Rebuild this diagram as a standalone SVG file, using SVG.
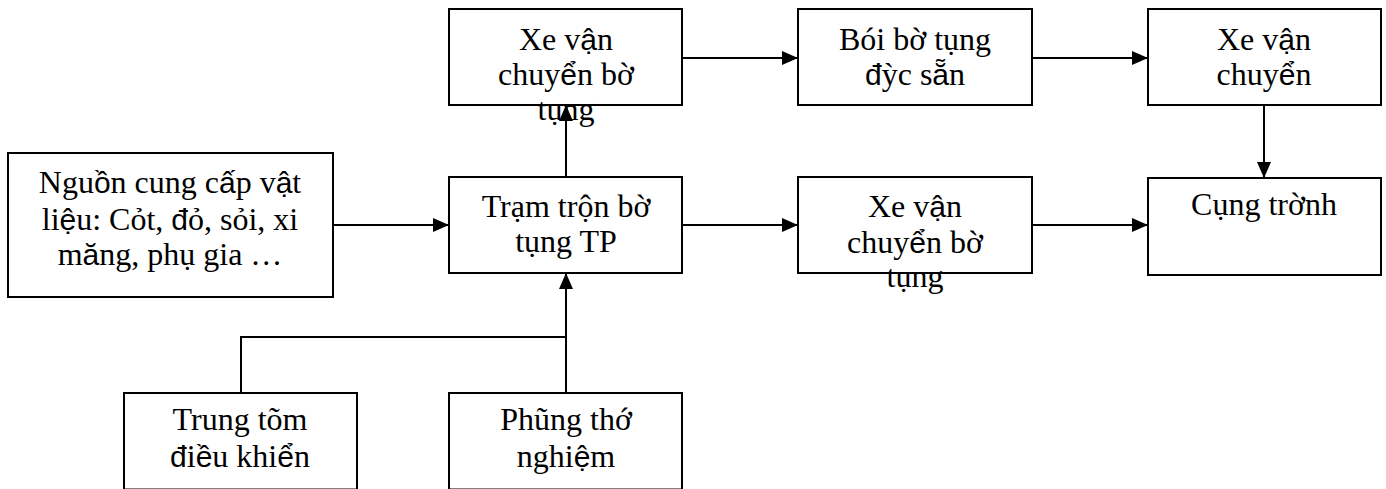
<svg xmlns="http://www.w3.org/2000/svg" width="1386" height="489" viewBox="0 0 1386 489">
<style>
.box{fill:#fff;stroke:#000;stroke-width:2}
.t{font-family:"Liberation Serif","Times New Roman",serif;font-size:32px;fill:#000;text-anchor:middle}
.s{font-family:"Liberation Sans",Arial,sans-serif;font-size:30px}
.ln{fill:none;stroke:#000;stroke-width:2}
</style>
<defs>
<marker id="ah" markerWidth="16" markerHeight="14" refX="16" refY="7" orient="auto" markerUnits="userSpaceOnUse">
<path d="M0,0 L16,7 L0,14 Z" fill="#000"/>
</marker>
</defs>
<rect width="1386" height="489" fill="#fff"/>
<g id="connectors">
<line class="ln" x1="333" y1="225" x2="449" y2="225" marker-end="url(#ah)"/>
<line class="ln" x1="682" y1="58" x2="798" y2="58" marker-end="url(#ah)"/>
<line class="ln" x1="1032" y1="58" x2="1148" y2="58" marker-end="url(#ah)"/>
<line class="ln" x1="1264" y1="105" x2="1264" y2="178" marker-end="url(#ah)"/>
<line class="ln" x1="682" y1="225" x2="798" y2="225" marker-end="url(#ah)"/>
<line class="ln" x1="1032" y1="225" x2="1148" y2="225" marker-end="url(#ah)"/>
<line class="ln" x1="566" y1="177" x2="566" y2="105" marker-end="url(#ah)"/>
<line class="ln" x1="566" y1="393" x2="566" y2="273" marker-end="url(#ah)"/>
<polyline class="ln" points="241,393 241,337 566,337"/>
</g>
<g id="n-source">
<rect class="box" x="8" y="153" width="325" height="144"/>
<text class="t" x="170" y="193">Ngu<tspan class="s">ồ</tspan>n cung c<tspan class="s">ấ</tspan>p v<tspan class="s">ậ</tspan>t</text>
<text class="t" x="170" y="230">li<tspan class="s">ệ</tspan>u: Cỏt, <tspan class="s">đ</tspan>ỏ, sỏi, xi</text>
<text class="t" x="170" y="265">m<tspan class="s">ă</tspan>ng, phụ gia …</text>
</g>
<g id="n-xe1">
<rect class="box" x="449" y="9" width="233" height="96"/>
<text class="t" x="566" y="50">Xe v<tspan class="s">ậ</tspan>n</text>
<text class="t" x="566" y="85">chuy<tspan class="s">ể</tspan>n bờ</text>
<text class="t" x="566" y="120">tụng</text>
</g>
<g id="n-boi">
<rect class="box" x="798" y="9" width="234" height="96"/>
<text class="t" x="915" y="50">Bói bờ tụng</text>
<text class="t" x="915" y="85"><tspan class="s">đ</tspan>ỳc s<tspan class="s">ẵ</tspan>n</text>
</g>
<g id="n-xe3">
<rect class="box" x="1148" y="9" width="233" height="96"/>
<text class="t" x="1264" y="50">Xe v<tspan class="s">ậ</tspan>n</text>
<text class="t" x="1264" y="85">chuy<tspan class="s">ể</tspan>n</text>
</g>
<g id="n-congtrinh">
<rect class="box" x="1148" y="178" width="233" height="97"/>
<text class="t" x="1264" y="215">Cụng trờnh</text>
</g>
<g id="n-tram">
<rect class="box" x="449" y="177" width="233" height="96"/>
<text class="t" x="566" y="217">Trạm trộn bờ</text>
<text class="t" x="566" y="252">tụng TP</text>
</g>
<g id="n-xe2">
<rect class="box" x="798" y="177" width="234" height="96"/>
<text class="t" x="915" y="217">Xe v<tspan class="s">ậ</tspan>n</text>
<text class="t" x="915" y="253">chuy<tspan class="s">ể</tspan>n bờ</text>
<text class="t" x="915" y="287">tụng</text>
</g>
<g id="n-trungtam">
<rect class="box" x="124" y="393" width="233" height="96.5"/>
<text class="t" x="240" y="430">Trung tõm</text>
<text class="t" x="240" y="467"><tspan class="s">đ</tspan>i<tspan class="s">ề</tspan>u khi<tspan class="s">ể</tspan>n</text>
</g>
<g id="n-phong">
<rect class="box" x="449" y="393" width="233" height="96.5"/>
<text class="t" x="566" y="430">Phũng thớ</text>
<text class="t" x="566" y="467">nghi<tspan class="s">ệ</tspan>m</text>
</g>
</svg>
